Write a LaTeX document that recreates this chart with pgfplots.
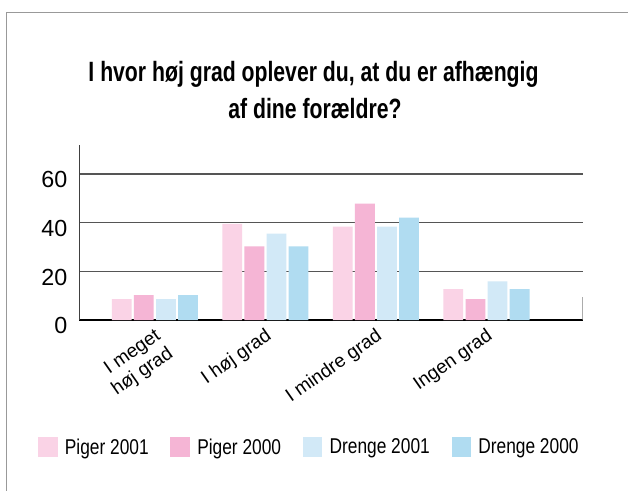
\documentclass[border=0pt]{standalone}
\usepackage{fontspec}
\setmainfont{Liberation Sans}
\newfontfamily\condfont{Liberation Sans}[FakeStretch=0.81]
\newfontfamily\titlefont{Liberation Sans}[FakeStretch=0.76]
\usepackage{pgfplots}
\pgfplotsset{compat=1.18}
\definecolor{pig01}{HTML}{FAD3E6}
\definecolor{pig00}{HTML}{F5B5D5}
\definecolor{dre01}{HTML}{D2E9F7}
\definecolor{dre00}{HTML}{B0DCF1}
\definecolor{gridc}{HTML}{555555}
\begin{document}
\begin{tikzpicture}
\useasboundingbox (0,0) rectangle (628pt,-490pt);
\fill[white] (0,0) rectangle (628pt,-490pt);
\draw[color=gray!80, line width=1pt] (6.7pt,-491pt) -- (6.7pt,-12.3pt) -- (629pt,-12.3pt);
\node[anchor=base, inner sep=0pt] at (313.5pt,-81.7pt) {\titlefont\bfseries\fontsize{27.9}{33}\selectfont I hvor høj grad oplever du, at du er afhængig};
\node[anchor=base, inner sep=0pt] at (315pt,-118pt) {\titlefont\bfseries\fontsize{27.9}{33}\selectfont af dine forældre?};
\begin{axis}[
  at={(79.3pt,-320pt)}, anchor=south west,
  scale only axis, width=503.4pt, height=175.3pt,
  xmin=-0.684, xmax=3.871, ymin=0, ymax=72,
  axis x line=bottom, axis y line=left,
  x axis line style={-, black, line width=1.3pt},
  y axis line style={-, black!75, line width=1pt},
  ymajorgrids, grid style={gridc, line width=1.2pt},
  major tick length=0pt,
  /pgf/number format/assume math mode=true,
  ytick={0,20,40,60},
  xtick={0,1,2,3},
  xticklabels={{I meget\\høj grad}, I høj grad, I mindre grad, Ingen grad},
  xticklabel style={xshift=-1pt, yshift=-7pt, rotate=35, anchor=north east, inner sep=0pt, align=right, font=\fontsize{19}{22}\selectfont},
  yticklabel style={anchor=base east, inner sep=0pt, xshift=-11.8pt, yshift=-13.7pt, font=\fontsize{23.3}{26}\selectfont},
  ybar=2.3pt, bar width=19.8pt,
  legend columns=4,
  legend style={at={(axis description cs:-0.0818,-0.7245)}, anchor=west, draw=none, fill=none, inner sep=0pt, outer sep=0pt,
    font=\condfont\fontsize{21.4}{25}\selectfont,
    nodes={inner xsep=7.2pt, inner ysep=0pt},
    /tikz/every even column/.append style={column sep=14.5pt}},
  legend image code/.code={\fill[#1] (0pt,-10pt) rectangle (19.6pt,10pt);},
]
\addplot[fill=pig01, draw=none] coordinates {(0,8.6) (1,39.5) (2,38.4) (3,12.7)};
\addplot[fill=pig00, draw=none] coordinates {(0,10.2) (1,30.2) (2,47.8) (3,8.6)};
\addplot[fill=dre01, draw=none] coordinates {(0,8.6) (1,35.5) (2,38.4) (3,15.9)};
\addplot[fill=dre00, draw=none] coordinates {(0,10.2) (1,30.2) (2,42.0) (3,12.7)};
\legend{Piger 2001, Piger 2000, Drenge 2001, Drenge 2000}
\draw[gray, line width=1.5pt] (rel axis cs:1,0) -- (axis cs:3.871,9.3);
\end{axis}
\end{tikzpicture}
\end{document}
